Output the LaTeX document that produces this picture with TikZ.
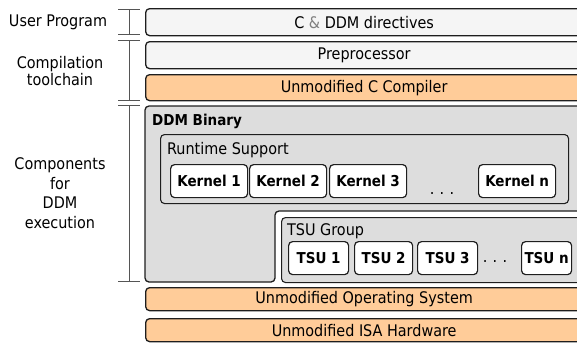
\documentclass[tikz,border=0pt]{standalone}
\usepackage{fontspec}
\setmainfont{DejaVu Sans Condensed}
\usepackage{xcolor}
\definecolor{peach}{RGB}{255,204,153}
\definecolor{paper}{RGB}{245,245,245}
\definecolor{shell}{RGB}{221,221,221}
\definecolor{edge}{RGB}{30,30,30}
\definecolor{rule}{RGB}{85,85,85}
\newcommand\layerbracket[2]{\draw[rule, line width=0.8pt] (118,#1) -- (140,#1) (129,#1) -- (129,#2) (118,#2) -- (140,#2);}

\begin{document}
\begin{tikzpicture}[x=1pt,y=-1pt]
    \tikzset{
        layer/.style={draw=edge, line width=1.3pt, rounded corners=4pt, anchor=north west, inner sep=0pt, font=\fontsize{16}{18}\selectfont},
        cell/.style={draw=edge, line width=1.2pt, rounded corners=4pt, fill=white, anchor=north west, minimum height=33, inner sep=0pt, font=\bfseries\fontsize{15}{18}\selectfont},
        side/.style={align=center, font=\fontsize{16}{19.5}\selectfont},
        label/.style={anchor=west, inner sep=0pt, font=\fontsize{16}{18}\selectfont},
    }
    \useasboundingbox (0,0) rectangle (577,343);
    \node[layer, fill=paper, minimum width=437, minimum height=27] (directives) at (145,8) {C {\color{gray}\&} DDM directives};
    \node[layer, fill=paper, minimum width=437, minimum height=27] (preproc) at (145,41) {Preprocessor};
    \node[layer, fill=peach, minimum width=437, minimum height=26] (compiler) at (145,74) {Unmodified C Compiler};
    \draw[draw=edge, line width=1.3pt, fill=shell, rounded corners=4pt] (145,106) -- (600,106) -- (600,211) -- (275,211) -- (275,282) -- (145,282) -- cycle;
    \node[label, font=\bfseries\fontsize{15}{18}\selectfont] (binary) at (152,121) {DDM Binary};
    \node[layer, fill=shell, line width=1.1pt, minimum width=408, minimum height=69] (runtime) at (160,134) {};
    \node[label] (runtimelbl) at (167,150) {Runtime Support};
    \foreach \k/\x in {1/170,2/249,3/329,n/478}
        \node[cell, minimum width=77] (kernel\k) at (\x,164) {Kernel \k};
    \node[anchor=base, inner sep=0pt, font=\fontsize{16}{18}\selectfont] (kerneldots) at (442,194) {.\,\,.\,\,.};
    \node[layer, fill=shell, line width=1.1pt, minimum width=320, minimum height=65] (tsugroup) at (281,217) {};
    \node[label] (tsulbl) at (287,231) {TSU Group};
    \foreach \t/\x/\w in {1/288/60,2/354/58,3/417/60,n/521/50}
        \node[cell, minimum width=\w] (tsu\t) at (\x,241) {TSU \t};
    \node[anchor=base, inner sep=0pt, font=\fontsize{16}{18}\selectfont] (tsudots) at (495,262) {.\,\,.\,\,.};
    \node[layer, fill=peach, minimum width=437, minimum height=23] (os) at (145,287) {Unmodified Operating System};
    \node[layer, fill=peach, minimum width=437, minimum height=23] (isa) at (145,318) {Unmodified ISA Hardware};
    \layerbracket{9}{34}
    \layerbracket{40}{100}
    \layerbracket{105}{281}
    \node[side] (userlbl) at (58,22) {User Program};
    \node[side, font=\fontsize{16}{17.5}\selectfont] (compilelbl) at (60,71) {Compilation\\toolchain};
    \node[side] (execlbl) at (60,193) {Components\\for\\DDM\\execution};
\end{tikzpicture}
\end{document}
